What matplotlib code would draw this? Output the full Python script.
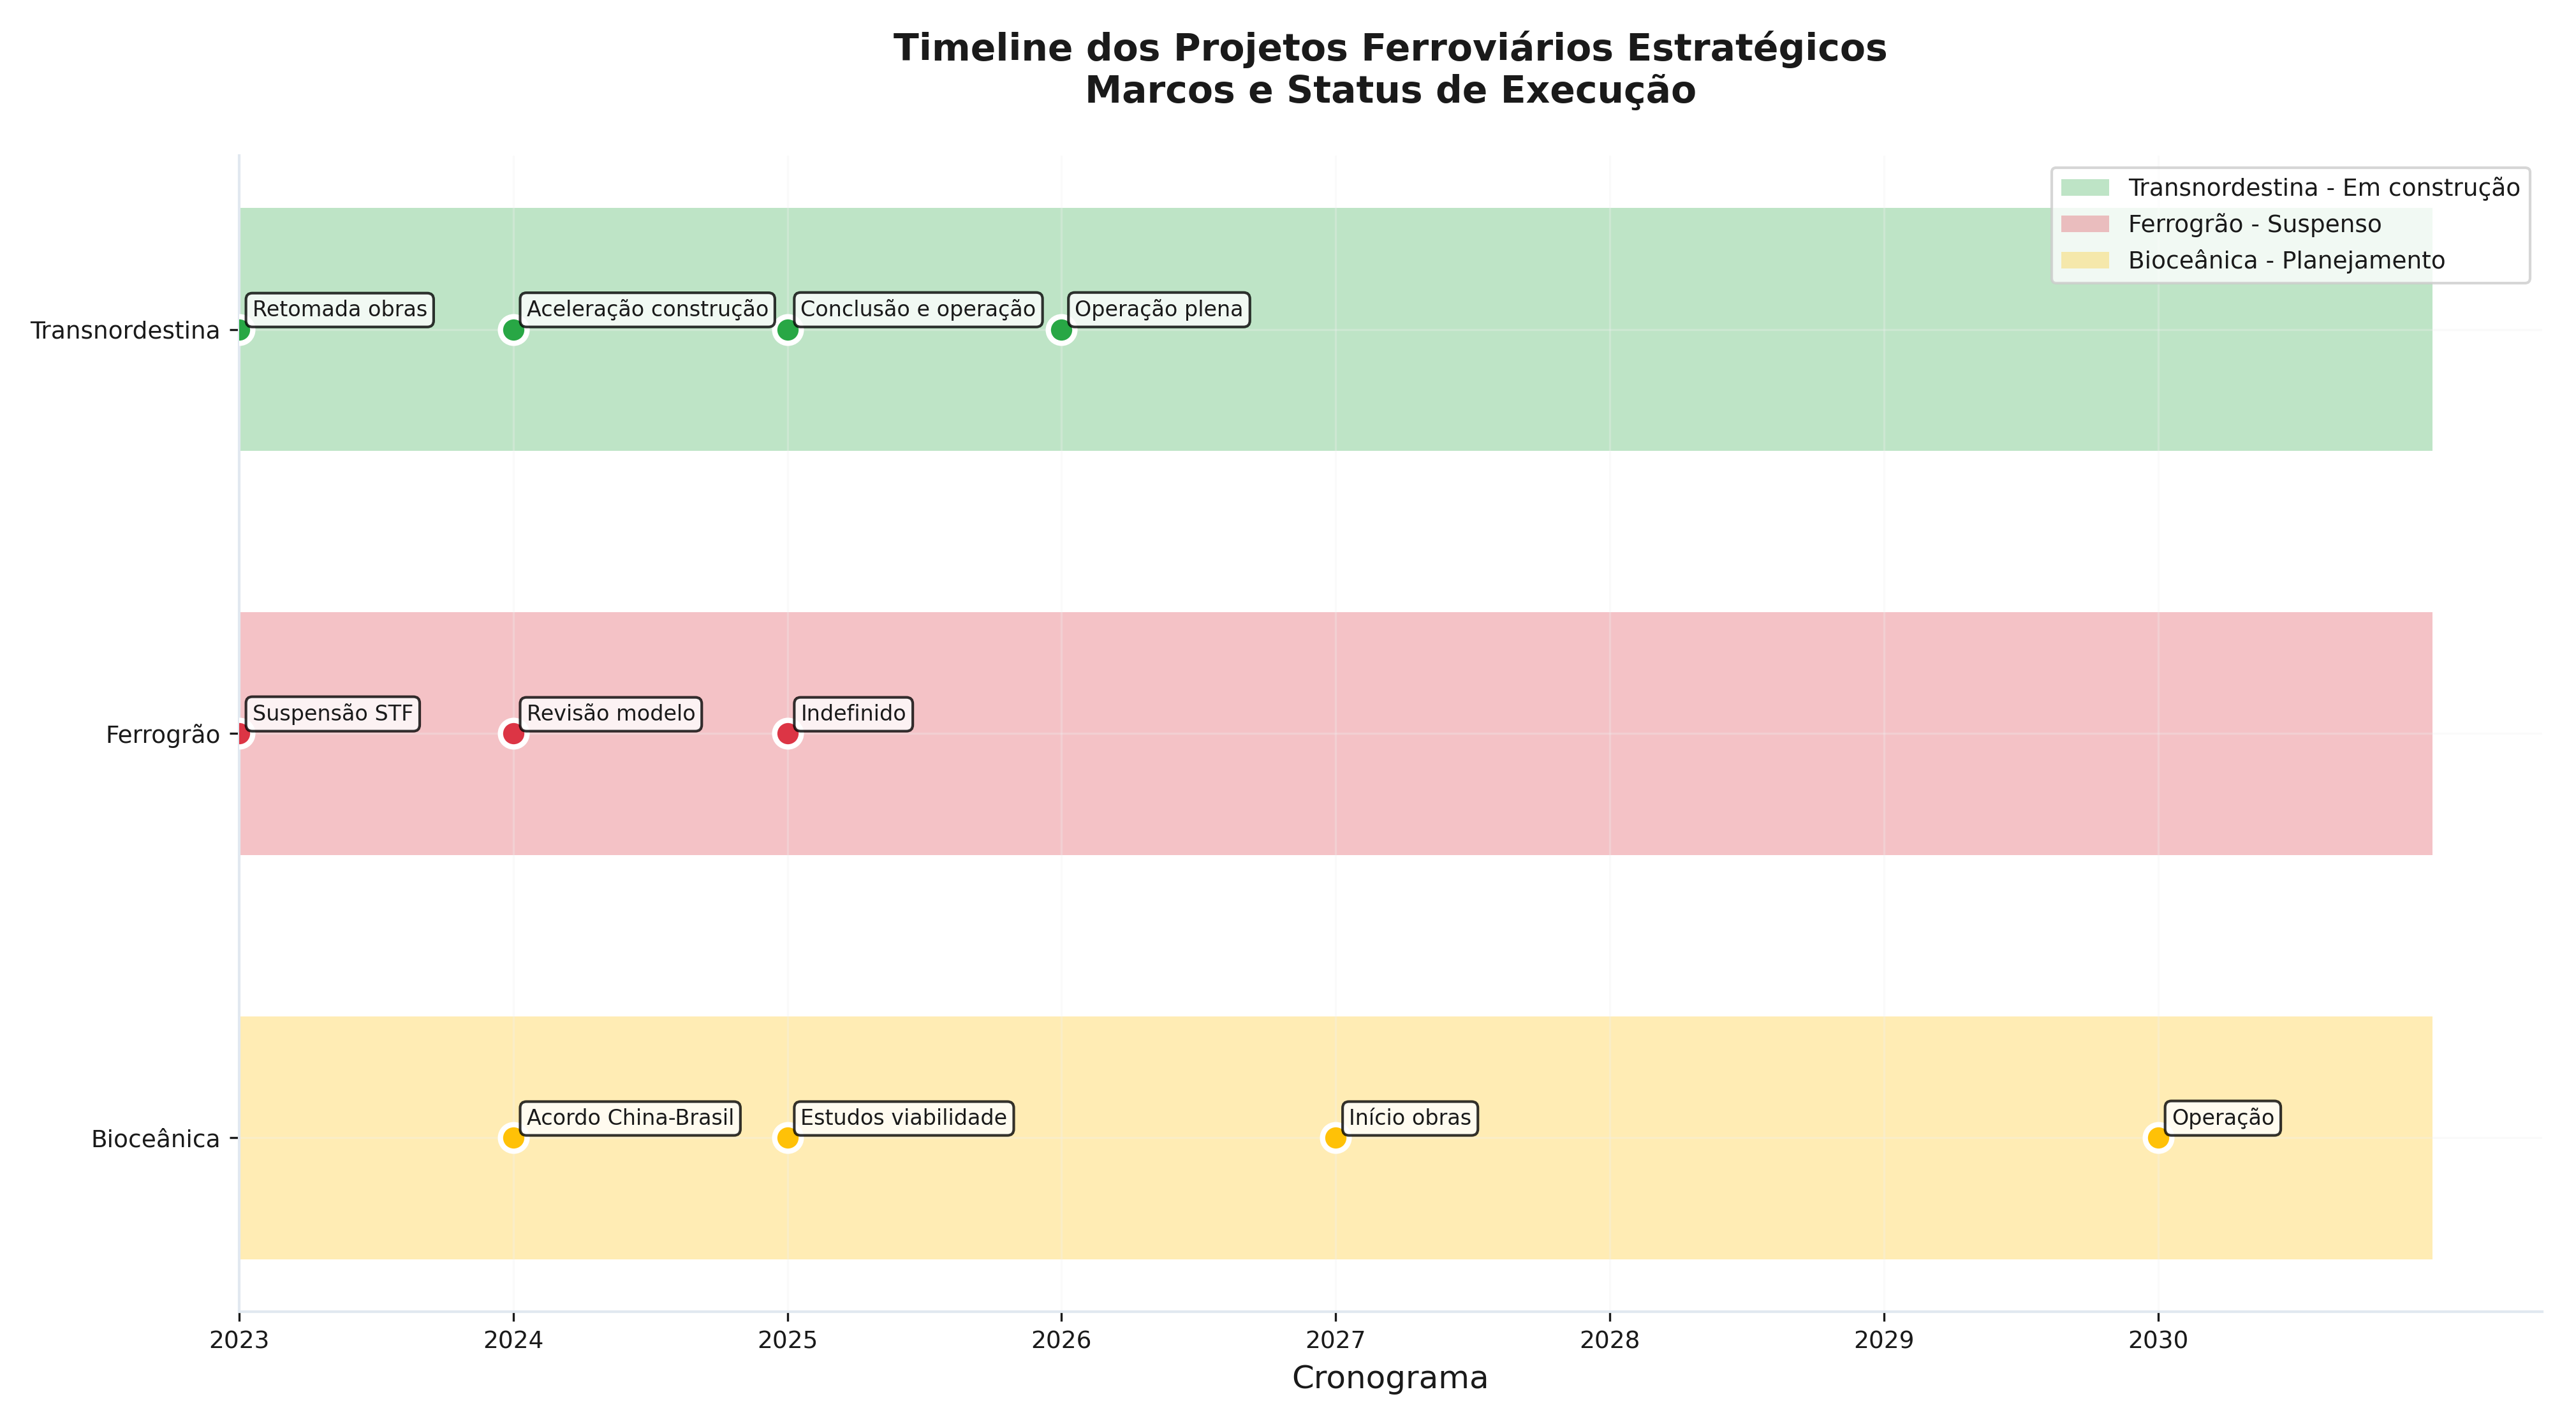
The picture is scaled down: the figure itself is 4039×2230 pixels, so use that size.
import matplotlib
matplotlib.use("Agg")
import matplotlib.pyplot as plt

# Data
projects = ["Transnordestina", "Ferrogrão", "Bioceânica"]
statuses = ["Em construção", "Suspenso", "Planejamento"]
colors = ["#28a745", "#dc3545", "#ffc107"]
bar_start = [2023, 2023, 2023]
bar_end = [2031, 2031, 2031]

milestone_years = [
    [2023, 2024, 2025, 2026],
    [2023, 2024, 2025],
    [2024, 2025, 2027, 2030],
]
milestone_labels = [
    ["Retomada obras", "Aceleração construção", "Conclusão e operação", "Operação plena"],
    ["Suspensão STF", "Revisão modelo", "Indefinido"],
    ["Acordo China-Brasil", "Estudos viabilidade", "Início obras", "Operação"],
]
xticks = [2023, 2024, 2025, 2026, 2027, 2028, 2029, 2030]

text_color = "#1a1a1a"
plt.rcParams["font.family"] = ["DejaVu Sans"]
plt.rcParams["text.color"] = text_color
plt.rcParams["axes.labelcolor"] = text_color
plt.rcParams["xtick.color"] = text_color
plt.rcParams["ytick.color"] = text_color

fig = plt.figure(figsize=(4039 / 300, 2230 / 300), dpi=300)
ax = fig.add_axes([0.0928, 0.0776, 0.894, 0.8130])

n = len(projects)
ypos = [n - 1 - i for i in range(n)]

for i, proj in enumerate(projects):
    y = ypos[i]
    ax.barh(y, bar_end[i] - bar_start[i], left=bar_start[i], height=0.6,
            color=colors[i], alpha=0.3, label=f"{proj} - {statuses[i]}")
    for yr, lab in zip(milestone_years[i], milestone_labels[i]):
        ax.scatter(yr, y, s=100, color=colors[i], edgecolor="white",
                   linewidth=2, zorder=5)
        ax.annotate(lab, (yr, y), xytext=(5, 5), textcoords="offset points",
                    fontsize=8, color=text_color, zorder=6,
                    bbox=dict(boxstyle="round,pad=0.3", facecolor="white",
                              edgecolor="black", alpha=0.8))

ax.set_yticks(ypos)
ax.set_yticklabels(projects, fontsize=9)
ax.set_xticks(xticks)
ax.set_xticklabels([str(x) for x in xticks], fontsize=9)
ax.set_xlim(2023, 2031.4)
ax.set_ylim(-0.43, 2.43)

ax.set_xlabel("Cronograma", fontsize=12)
ax.set_title("Timeline dos Projetos Ferroviários Estratégicos\nMarcos e Status de Execução",
             fontsize=14, fontweight="bold", pad=20, color=text_color)

ax.grid(True, alpha=0.3, color="#f0f0f0")
for side in ["top", "right"]:
    ax.spines[side].set_visible(False)
for side in ["left", "bottom"]:
    ax.spines[side].set_color("#e1e8f0")
    ax.spines[side].set_linewidth(1.0)

ax.legend(loc="upper right", fontsize=9)

fig.savefig("out.png", dpi=300)
